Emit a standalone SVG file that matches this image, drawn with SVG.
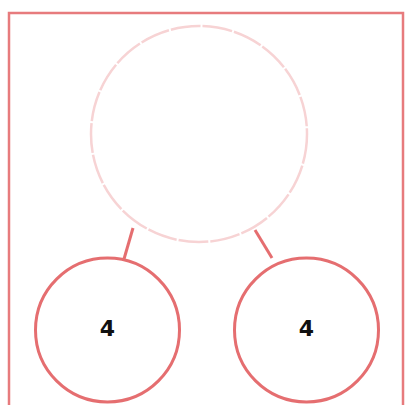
<svg xmlns="http://www.w3.org/2000/svg" width="409" height="405" viewBox="0 0 409 405">
<style>
.frame{fill:none;stroke:#e77b7d;stroke-width:2.5}
.node{fill:#fff;stroke:#e56e70;stroke-width:3}
.ghost{fill:#fff;stroke:#f7d3d4;stroke-width:2.5;stroke-dasharray:30 2}
.edge{stroke:#e56e70;stroke-width:3;fill:none}
.lbl{font-family:"DejaVu Sans",sans-serif;font-size:22px;font-weight:bold;fill:#111;text-anchor:middle;dominant-baseline:central}
</style>
<rect width="409" height="405" fill="#fff"/>
<rect class="frame" x="9" y="13" width="394" height="420"/>
<g id="connectors">
<line class="edge" x1="133" y1="228" x2="124" y2="259"/>
<line class="edge" x1="255" y1="230" x2="272" y2="258"/>
</g>
<g id="root">
<circle class="ghost" cx="199" cy="134" r="108"/>
</g>
<g id="left">
<circle class="node" cx="107.5" cy="330" r="72"/>
<text class="lbl" x="107.5" y="328">4</text>
</g>
<g id="right">
<circle class="node" cx="306.5" cy="330" r="72"/>
<text class="lbl" x="306.5" y="328">4</text>
</g>
</svg>
